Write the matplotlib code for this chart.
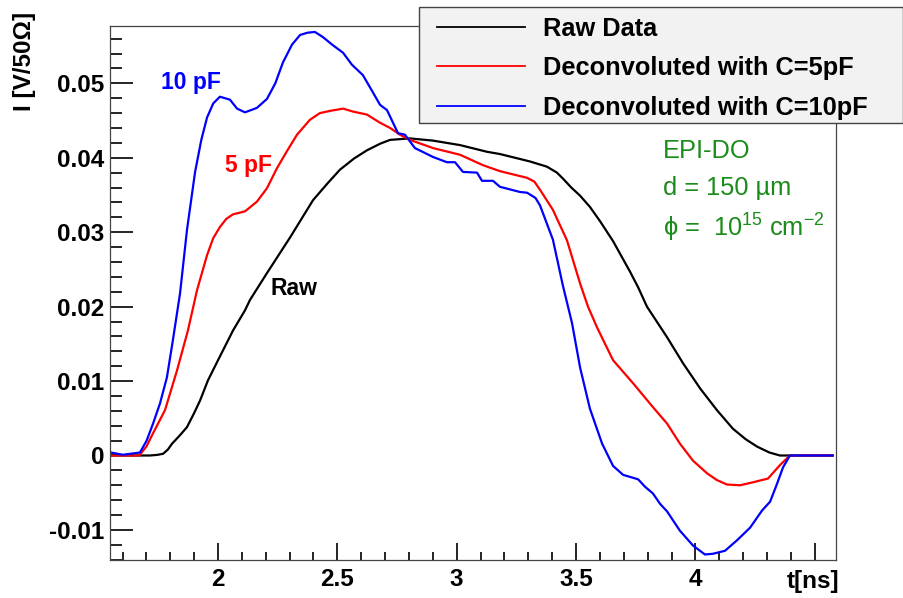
import matplotlib.pyplot as plt
from matplotlib.patches import Rectangle
from matplotlib.ticker import MultipleLocator

plt.rcParams["font.family"] = ["Liberation Sans", "DejaVu Sans"]
plt.rcParams["mathtext.fontset"] = "custom"
plt.rcParams["mathtext.rm"] = "Liberation Sans"
plt.rcParams["mathtext.it"] = "Liberation Sans:italic"
plt.rcParams["mathtext.bf"] = "Liberation Sans:bold"

# current pulses, time in ns, current in V/50 Ohm
t_raw = [1.55, 1.686, 1.715, 1.745, 1.770, 1.790, 1.807, 1.840, 1.870, 1.900, 1.925,
         1.958, 2.0, 2.063, 2.113, 2.134, 2.205, 2.302, 2.398, 2.460, 2.511, 2.570,
         2.624, 2.680, 2.721, 2.804, 2.901, 3.014, 3.127, 3.181, 3.307, 3.378,
         3.420, 3.445, 3.480, 3.517, 3.558, 3.600, 3.655, 3.700, 3.726, 3.760,
         3.797, 3.881, 3.948, 4.020, 4.090, 4.157, 4.210, 4.258, 4.310, 4.354, 4.575]
i_raw = [0.0, 0.0, 0.0, 0.00008, 0.00023, 0.0008, 0.00157, 0.0027, 0.00381, 0.0057,
         0.0074, 0.0101, 0.0128, 0.0168, 0.0195, 0.0209, 0.0245, 0.0293, 0.0343,
         0.0366, 0.0384, 0.0399, 0.0410, 0.0419, 0.0424, 0.0426, 0.0423, 0.0417,
         0.0408, 0.0405, 0.0395, 0.0388, 0.0380, 0.0372, 0.0360, 0.0349, 0.0334,
         0.0315, 0.0288, 0.0262, 0.0247, 0.0226, 0.0200, 0.0159, 0.0124, 0.0090,
         0.0061, 0.0036, 0.0022, 0.0012, 0.0004, 0.0, 0.0]

t_5pf = [1.55, 1.670, 1.700, 1.728, 1.778, 1.828, 1.874, 1.912, 1.954, 1.980, 2.008,
         2.035, 2.063, 2.113, 2.163, 2.205, 2.247, 2.289, 2.331, 2.385, 2.427,
         2.470, 2.524, 2.566, 2.624, 2.679, 2.721, 2.762, 2.804, 2.901, 3.014,
         3.110, 3.181, 3.295, 3.325, 3.349, 3.403, 3.462, 3.517, 3.550, 3.588,
         3.655, 3.739, 3.822, 3.881, 3.935, 3.990, 4.049, 4.090, 4.132, 4.187,
         4.241, 4.304, 4.354, 4.396, 4.575]
i_5pf = [0.0, 0.0, 0.0012, 0.0030, 0.0061, 0.0114, 0.0168, 0.0222, 0.0269, 0.0292,
         0.0307, 0.0318, 0.0324, 0.0328, 0.0341, 0.0359, 0.0386, 0.0409, 0.0431,
         0.0451, 0.0460, 0.0463, 0.0466, 0.0462, 0.0458, 0.0447, 0.0440, 0.0431,
         0.0424, 0.0413, 0.0404, 0.0390, 0.0382, 0.0373, 0.0368, 0.0357, 0.0330,
         0.0289, 0.0231, 0.0200, 0.0172, 0.0128, 0.0097, 0.0065, 0.0043, 0.0016,
         -0.0007, -0.0024, -0.0033, -0.0039, -0.0040, -0.0036, -0.0031, -0.0013,
         0.0, 0.0]

t_10pf = [1.55, 1.602, 1.673, 1.701, 1.728, 1.757, 1.786, 1.811, 1.841, 1.870, 1.904,
          1.930, 1.954, 1.980, 2.008, 2.050, 2.080, 2.113, 2.163, 2.205, 2.240,
          2.272, 2.310, 2.344, 2.375, 2.406, 2.440, 2.478, 2.524, 2.561, 2.607,
          2.645, 2.679, 2.708, 2.754, 2.783, 2.825, 2.901, 2.959, 2.993, 3.026,
          3.085, 3.106, 3.152, 3.181, 3.265, 3.295, 3.330, 3.349, 3.403, 3.445,
          3.483, 3.517, 3.558, 3.609, 3.655, 3.697, 3.760, 3.789, 3.822, 3.852,
          3.881, 3.935, 3.990, 4.040, 4.074, 4.124, 4.174, 4.229, 4.279, 4.313,
          4.342, 4.367, 4.396, 4.575]
i_10pf = [0.0004, 0.0001, 0.0004, 0.0020, 0.0043, 0.0070, 0.0105, 0.0155, 0.0218,
          0.0303, 0.0381, 0.0424, 0.0454, 0.0473, 0.0482, 0.0478, 0.0466, 0.0461,
          0.0467, 0.0479, 0.0500, 0.0528, 0.0552, 0.0565, 0.0568, 0.0569, 0.0562,
          0.0552, 0.0541, 0.0525, 0.0511, 0.0490, 0.0471, 0.0464, 0.0433, 0.0431,
          0.0413, 0.0401, 0.0394, 0.0394, 0.0381, 0.0380, 0.0369, 0.0369, 0.0361,
          0.0354, 0.0353, 0.0346, 0.0336, 0.0290, 0.0228, 0.0178, 0.0118, 0.0063,
          0.0016, -0.0014, -0.0026, -0.0032, -0.0042, -0.0051, -0.0065, -0.0075,
          -0.0101, -0.0121, -0.0133, -0.0132, -0.0128, -0.0114, -0.0097, -0.0074,
          -0.0062, -0.0038, -0.0016, 0.0, 0.0]

legend_labels = ["Raw Data", "Deconvoluted with C=5pF", "Deconvoluted with C=10pF"]
x_ticks = [2, 2.5, 3, 3.5, 4, 4.5]
x_ticklabels = ["2", "2.5", "3", "3.5", "4", ""]
y_ticks = [-0.01, 0.0, 0.01, 0.02, 0.03, 0.04, 0.05]
y_ticklabels = ["-0.01", "0", "0.01", "0.02", "0.03", "0.04", "0.05"]

fig = plt.figure(figsize=(9.04, 5.98), dpi=100)
ax = fig.add_axes([110 / 904, 38 / 598, 726 / 904, 534 / 598])

l1, = ax.plot(t_raw, i_raw, color="black", lw=1.6)
l2, = ax.plot(t_5pf, i_5pf, color="#ff0000", lw=1.6)
l3, = ax.plot(t_10pf, i_10pf, color="#0000ff", lw=1.6)

ax.set_xlim(1.5475, 4.589)
ax.set_ylim(-0.01404, 0.0577)

ax.set_xticks(x_ticks)
ax.set_xticklabels(x_ticklabels)
ax.set_yticks(y_ticks)
ax.set_yticklabels(y_ticklabels)
ax.xaxis.set_minor_locator(MultipleLocator(0.1))
ax.yaxis.set_minor_locator(MultipleLocator(0.002))

ax.tick_params(axis="both", which="both", direction="in", color="black", width=1.2,
               labelsize=17.5)
ax.tick_params(axis="x", which="major", length=12, pad=6)
ax.tick_params(axis="x", which="minor", length=6)
ax.tick_params(axis="y", which="major", length=16.5, pad=4)
ax.tick_params(axis="y", which="minor", length=8.6)
ax.tick_params(top=False, right=False, which="both")
for lbl in ax.get_xticklabels() + ax.get_yticklabels():
    lbl.set_fontweight("bold")
for sp in ax.spines.values():
    sp.set_color("#444444")
    sp.set_linewidth(0.9)

# axis titles
ax.text(1.005, -0.018, "t[ns]", transform=ax.transAxes, ha="right", va="top",
        fontsize=17.5, fontweight="bold")
fig.text(25 / 904, 1 - 12 / 598, "I [V/50\u03a9]", rotation=90, ha="center", va="top",
         fontsize=17.5, fontweight="bold")

# curve labels
ax.text(1.761, 0.0501, "10 pF", color="#0000ff", fontsize=16.5, fontweight="bold",
        ha="left", va="center")
ax.text(2.029, 0.0390, "5 pF", color="#ff0000", fontsize=16.5, fontweight="bold",
        ha="left", va="center")
ax.text(2.218, 0.0225, "Raw", color="black", fontsize=16.5, fontweight="bold",
        ha="left", va="center")

# sample description
green = "#1a8c1a"
ax.text(0.7617, 0.7528, "EPI-DO", transform=ax.transAxes, color=green, fontsize=18.3,
        va="baseline")
ax.text(0.7617, 0.6835, "d = 150 \u00b5m", transform=ax.transAxes, color=green,
        fontsize=18.3, va="baseline")
ax.text(0.7617, 0.6049, "\u03d5 =  10$^{\\mathregular{15}}$ cm$^{\\mathregular{-2}}$",
        transform=ax.transAxes, color=green, fontsize=18.3, va="baseline")

# legend box
box = Rectangle((419 / 904, 1 - 123 / 598), 484 / 904, 116 / 598, transform=fig.transFigure,
                facecolor="#f2f2f2", edgecolor="#444444", lw=1.0, zorder=3)
fig.patches.append(box)
leg = fig.legend([l1, l2, l3], legend_labels, loc="upper left",
                 bbox_to_anchor=(437 / 904, 1 - 17 / 598), frameon=False,
                 borderpad=0, borderaxespad=0, handlelength=3.46, handletextpad=0.71,
                 labelspacing=0.6, prop={"size": 18.3, "weight": "bold"})
leg.set_zorder(4)
for h in leg.legend_handles:
    h.set_linewidth(1.3)

fig.savefig("out.png", dpi=100)
